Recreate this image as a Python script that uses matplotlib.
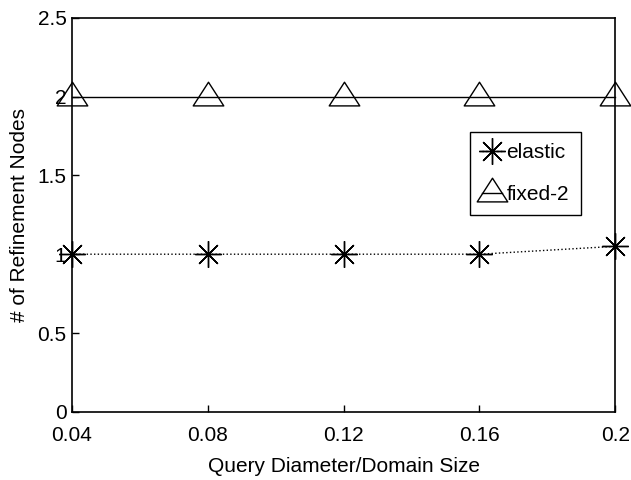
import matplotlib.pyplot as plt
from matplotlib.path import Path

plt.rcParams['font.family'] = ['Liberation Sans', 'DejaVu Sans']

x = [0.04, 0.08, 0.12, 0.16, 0.2]
elastic = [1.0, 1.0, 1.0, 1.0, 1.05]
fixed2 = [2.0, 2.0, 2.0, 2.0, 2.0]
xtick_labels = ['0.04', '0.08', '0.12', '0.16', '0.2']

# wide, squat triangle sitting a little low on its data point
tri = Path([(-1, -0.55), (1, -0.55), (0, 1.0), (-1, -0.55)],
           [Path.MOVETO, Path.LINETO, Path.LINETO, Path.CLOSEPOLY])

fig = plt.figure(figsize=(6.31, 4.8), dpi=100)
ax = fig.add_axes([0.114, 0.142, 0.861, 0.821])

ax.plot(x, elastic, color='black', linestyle=':', linewidth=1.0,
        marker=(8, 2, 0), markersize=19, markeredgewidth=1.0,
        clip_on=False, label='elastic', zorder=3)
ax.plot(x, fixed2, color='black', linestyle='-', linewidth=1.0,
        marker=tri, markersize=22, markerfacecolor='none', markeredgewidth=1.0,
        clip_on=False, label='fixed-2', zorder=3)

ax.set_xlim(0.04, 0.2)
ax.set_ylim(0, 2.5)
ax.set_xticks(x)
ax.set_xticklabels(xtick_labels)
ax.set_yticks([0, 0.5, 1, 1.5, 2, 2.5])
ax.set_yticklabels(['0', '0.5', '1', '1.5', '2', '2.5'])
ax.tick_params(direction='in', length=5, labelsize=15, width=1.0)
ax.tick_params(axis='x', pad=10)
ax.tick_params(axis='y', pad=4)
for s in ax.spines.values():
    s.set_linewidth(1.2)

ax.set_xlabel('Query Diameter/Domain Size', fontsize=15, labelpad=9)
ax.set_ylabel('# of Refinement Nodes', fontsize=15, labelpad=6)

leg = ax.legend(loc='upper left', bbox_to_anchor=(0.733, 0.711),
                borderaxespad=0, fontsize=15, handlelength=1.0,
                handletextpad=0.2, borderpad=0.55, labelspacing=1.1,
                fancybox=False, framealpha=1, edgecolor='black')
leg.get_frame().set_linewidth(1.0)

fig.savefig('out.png', dpi=100)
